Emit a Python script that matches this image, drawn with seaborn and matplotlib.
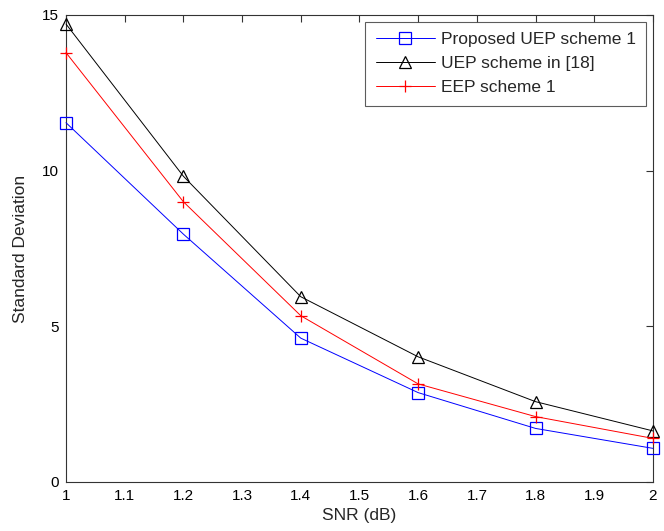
import matplotlib
matplotlib.use('Agg')
import matplotlib.pyplot as plt
import seaborn as sns
import pandas as pd

snr = [1.0, 1.2, 1.4, 1.6, 1.8, 2.0]
proposed_uep = [11.54, 7.96, 4.62, 2.87, 1.72, 1.08]
uep_ref18 = [14.71, 9.82, 5.95, 4.02, 2.58, 1.64]
eep_scheme1 = [13.79, 9.00, 5.34, 3.15, 2.10, 1.40]

series_names = ['Proposed UEP scheme 1', 'UEP scheme in [18]', 'EEP scheme 1']
x_ticks = [1, 1.1, 1.2, 1.3, 1.4, 1.5, 1.6, 1.7, 1.8, 1.9, 2]
x_tick_labels = ['1', '1.1', '1.2', '1.3', '1.4', '1.5', '1.6', '1.7', '1.8', '1.9', '2']
y_ticks = [0, 5, 10, 15]

sns.set_style('white')
plt.rcParams['font.family'] = ['Liberation Sans', 'DejaVu Sans']

fig = plt.figure(figsize=(6.64, 5.31), dpi=100)
ax = fig.add_axes([0.0994, 0.0923, 0.884, 0.8795])

styles = [
    (proposed_uep, '#0000ff', 's', 8),
    (uep_ref18, '#000000', '^', 9),
    (eep_scheme1, '#ff0000', '+', 9),
]
for (vals, color, marker, ms), name in zip(styles, series_names):
    df = pd.DataFrame({'snr': snr, 'std': vals})
    sns.lineplot(data=df, x='snr', y='std', ax=ax, color=color, linewidth=0.7,
                 marker=marker, markersize=ms, mfc='none', mec=color,
                 mew=0.9, label=name, clip_on=False, zorder=3)

ax.set_xlim(1, 2)
ax.set_ylim(0, 15)
ax.set_xticks(x_ticks)
ax.set_xticklabels(x_tick_labels)
ax.set_yticks(y_ticks)
ax.tick_params(direction='in', top=True, right=True, length=5, width=0.8,
               labelsize=11, colors='#333333', labelcolor='black', pad=5)
for sp in ax.spines.values():
    sp.set_visible(True)
    sp.set_color('#333333')
    sp.set_linewidth(0.8)

ax.set_xlabel('SNR (dB)', fontsize=12.5, labelpad=4)
ax.set_ylabel('Standard Deviation', fontsize=12.5, labelpad=10)

leg = ax.legend(loc='upper right', fontsize=12.5, frameon=True, fancybox=False,
                edgecolor='#333333', borderaxespad=0.4, handlelength=3.4,
                handletextpad=0.35, labelspacing=0.5, borderpad=0.6)
leg.get_frame().set_linewidth(0.8)

fig.savefig('out.png', dpi=100)
plt.close(fig)
